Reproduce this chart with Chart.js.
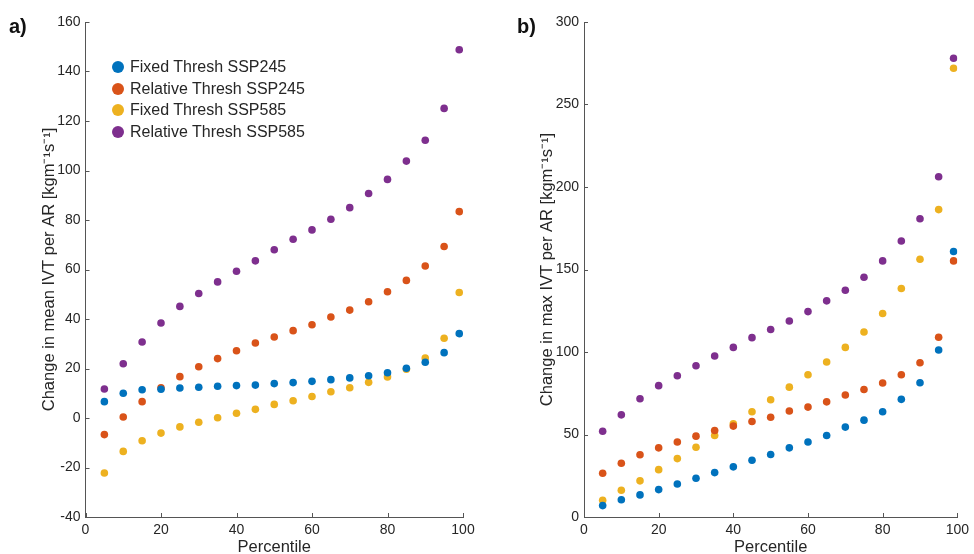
<!DOCTYPE html>
<html>
<head>
<meta charset="utf-8">
<script src="https://cdn.jsdelivr.net/npm/chart.js@4/dist/chart.umd.min.js"></script>
<style>
  body { margin: 0; background: #fff; font-family: "Liberation Sans", Arial, sans-serif; }
  #wrap { position: relative; width: 974px; height: 554px; }
  .panel { position: absolute; top: 0; }
  .tag { position: absolute; font-weight: bold; font-size: 20px; color: #111; }
  #legend { position: absolute; left: 112px; top: 56px; font-size: 16px; color: #262626; }
  #legend div { height: 21.7px; line-height: 21.7px; white-space: nowrap; }
  #legend span { display: inline-block; width: 12px; height: 12px; border-radius: 50%; margin-right: 6px; vertical-align: -1px; }
</style>
</head>
<body>
<div id="wrap">
  <div class="panel" style="left:0px"><canvas id="chartA" width="487" height="554"></canvas></div>
  <div class="panel" style="left:490px"><canvas id="chartB" width="484" height="554"></canvas></div>
  <div class="tag" style="left:9px; top:15px">a)</div>
  <div class="tag" style="left:517px; top:15px">b)</div>
  <div id="legend"></div>
</div>
<script>
// percentiles on the x axis
const percentiles = [5, 10, 15, 20, 25, 30, 35, 40, 45, 50, 55, 60, 65, 70, 75, 80, 85, 90, 95, 99];

const seriesNames = ["Fixed Thresh SSP245", "Relative Thresh SSP245", "Fixed Thresh SSP585", "Relative Thresh SSP585"];
const seriesColors = ["#0072BD", "#D95319", "#EDB120", "#7E2F8E"];

// a) change in mean IVT per AR
const meanFixed245 = [6.6, 10.0, 11.4, 11.6, 12.1, 12.4, 12.8, 13.1, 13.3, 13.9, 14.3, 14.8, 15.5, 16.2, 17.1, 18.3, 20.1, 22.5, 26.4, 34.1];
const meanRel245 = [-6.7, 0.4, 6.6, 12.2, 16.7, 20.7, 24.0, 27.2, 30.3, 32.7, 35.3, 37.7, 40.8, 43.6, 47.0, 51.0, 55.6, 61.4, 69.3, 83.4];
const meanFixed585 = [-22.2, -13.5, -9.2, -6.1, -3.6, -1.7, 0.1, 1.9, 3.5, 5.5, 7.0, 8.7, 10.6, 12.2, 14.4, 16.6, 19.7, 24.2, 32.2, 50.7];
const meanRel585 = [11.7, 21.9, 30.7, 38.4, 45.1, 50.3, 55.0, 59.3, 63.5, 68.0, 72.2, 76.0, 80.3, 85.0, 90.7, 96.4, 103.8, 112.2, 125.1, 148.8];

// b) change in max IVT per AR
const maxFixed245 = [6.9, 10.5, 13.4, 16.6, 20.0, 23.5, 26.9, 30.4, 34.4, 37.9, 41.9, 45.5, 49.4, 54.5, 58.7, 63.8, 71.3, 81.4, 101.2, 160.9];
const maxRel245 = [26.5, 32.6, 37.7, 41.9, 45.5, 49.0, 52.4, 55.1, 57.9, 60.5, 64.2, 66.6, 69.8, 73.9, 77.3, 81.2, 86.2, 93.5, 108.9, 155.2];
const maxFixed585 = [10.1, 16.2, 21.9, 28.7, 35.4, 42.3, 49.4, 56.5, 63.8, 71.1, 78.7, 86.2, 93.9, 102.8, 112.1, 123.3, 138.5, 156.2, 186.3, 272.0];
const maxRel585 = [52.0, 61.9, 71.7, 79.6, 85.6, 91.7, 97.6, 102.8, 108.7, 113.6, 118.8, 124.5, 131.0, 137.4, 145.3, 155.2, 167.3, 180.8, 206.2, 278.0];

const textColor = "#262626";
const axisColor = "#555555";
const fontFamily = "'Liberation Sans', Arial, sans-serif";

// MATLAB style ticks pointing into the plot
const inwardTicks = {
  id: "inwardTicks",
  afterDraw(chart) {
    const { ctx, chartArea, scales } = chart;
    ctx.save();
    ctx.strokeStyle = axisColor;
    ctx.lineWidth = 1;
    ctx.beginPath();
    scales.x.ticks.forEach((t) => {
      const px = Math.round(scales.x.getPixelForValue(t.value)) + 0.5;
      ctx.moveTo(px, chartArea.bottom);
      ctx.lineTo(px, chartArea.bottom - 4);
    });
    scales.y.ticks.forEach((t) => {
      const py = Math.round(scales.y.getPixelForValue(t.value)) + 0.5;
      ctx.moveTo(chartArea.left, py);
      ctx.lineTo(chartArea.left + 4, py);
    });
    ctx.stroke();
    ctx.restore();
  },
};

function makeDatasets(lists) {
  return lists.map((vals, i) => ({
    label: seriesNames[i],
    data: percentiles.map((p, j) => ({ x: p, y: vals[j] })),
    backgroundColor: seriesColors[i],
    borderColor: seriesColors[i],
    pointRadius: 3.8,
    pointBorderWidth: 0,
  }));
}

function makeChart(id, lists, yMin, yMax, yStep, yTitle, pad, yWidth) {
  new Chart(document.getElementById(id), {
    type: "scatter",
    data: { datasets: makeDatasets(lists) },
    plugins: [inwardTicks],
    options: {
      responsive: false,
      animation: false,
      devicePixelRatio: 1,
      layout: { padding: pad },
      plugins: { legend: { display: false }, tooltip: { enabled: false } },
      scales: {
        x: {
          type: "linear",
          min: 0,
          max: 100,
          ticks: { stepSize: 20, color: textColor, font: { family: fontFamily, size: 14 }, padding: 5 },
          grid: { display: false, drawTicks: false },
          border: { display: true, color: axisColor, width: 1 },
          title: { display: true, text: "Percentile", color: textColor, font: { family: fontFamily, size: 16.5 }, padding: { top: 0, bottom: -3 } },
          afterFit: (s) => { s.height = 37; },
        },
        y: {
          min: yMin,
          max: yMax,
          ticks: { stepSize: yStep, color: textColor, font: { family: fontFamily, size: 14 }, padding: 5 },
          grid: { display: false, drawTicks: false },
          border: { display: true, color: axisColor, width: 1 },
          title: { display: true, text: yTitle, color: textColor, font: { family: fontFamily, size: 16.5 }, padding: 0 },
          afterFit: (s) => { s.width = yWidth; },
        },
      },
    },
  });
}

makeChart("chartA", [meanFixed245, meanRel245, meanFixed585, meanRel585], -40, 160, 20,
  "Change in mean IVT per AR [kgm\u207B\u00B9s\u207B\u00B9]", { left: 40, right: 24, top: 22, bottom: 0 }, 45.5);
makeChart("chartB", [maxFixed245, maxRel245, maxFixed585, maxRel585], 0, 300, 50,
  "Change in max IVT per AR [kgm\u207B\u00B9s\u207B\u00B9]", { left: 48, right: 11, top: 22, bottom: 0 }, 46);

// legend inside panel a
const legend = document.getElementById("legend");
seriesNames.forEach((name, i) => {
  const row = document.createElement("div");
  const dot = document.createElement("span");
  dot.style.background = seriesColors[i];
  row.appendChild(dot);
  row.appendChild(document.createTextNode(name));
  legend.appendChild(row);
});
</script>
</body>
</html>
